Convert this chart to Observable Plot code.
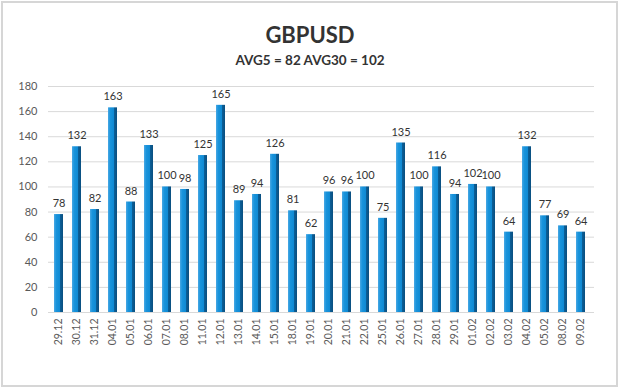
<!DOCTYPE html>
<html><head><meta charset="utf-8">
<script src="https://cdn.jsdelivr.net/npm/d3@7"></script>
<script src="https://cdn.jsdelivr.net/npm/@observablehq/plot@0.6"></script>
<style>
html,body{margin:0;padding:0;background:#fff;}
#wrap{position:relative;width:620px;height:387px;overflow:hidden;font-family:Lato,"Open Sans",sans-serif;}
#frame{position:absolute;left:1px;top:1px;width:613px;height:382px;border:2px solid #d6d6d6;}
#title{position:absolute;left:0;top:21px;width:620px;text-align:center;font-weight:bold;font-size:22px;color:#333;}
#sub{position:absolute;left:0;top:52px;width:620px;text-align:center;font-weight:bold;font-size:13.5px;color:#333;}
#chart{position:absolute;left:0;top:74px;}
</style></head>
<body>
<div id="wrap">
<div id="frame"></div>
<div id="title">GBPUSD</div>
<div id="sub">AVG5 = 82 AVG30 = 102</div>
<div id="chart"></div>
</div>
<script>
const dates = ["29.12","30.12","31.12","04.01","05.01","06.01","07.01","08.01","11.01","12.01","13.01","14.01","15.01","18.01","19.01","20.01","21.01","22.01","25.01","26.01","27.01","28.01","29.01","01.02","02.02","03.02","04.02","05.02","08.02","09.02"];
const values = [78,132,82,163,88,133,100,98,125,165,89,94,126,81,62,96,96,100,75,135,100,116,94,102,100,64,132,77,69,64];
const yTicks = [0,20,40,60,80,100,120,140,160,180];

const data = dates.map((d,i)=>({date:d, value:values[i]}));

const chart = Plot.plot({
  width: 620,
  height: 313,
  marginTop: 12,
  marginBottom: 75,
  marginLeft: 48,
  marginRight: 26,
  style: {fontFamily: "Lato, 'Open Sans', sans-serif", background: "transparent"},
  x: {domain: dates, paddingInner: 0.52, paddingOuter: 0.26, insetLeft: 1, insetRight: 4, label: null},
  y: {domain: [0,180], ticks: yTicks, label: null},
  marks: [
    Plot.gridY(yTicks, {stroke: "#d9d9d9", strokeOpacity: 1, strokeWidth: 1}),
    Plot.axisY({ticks: yTicks, tickSize: 0, tickPadding: 11, fontSize: 11, fill: "#595959", label: null}),
    Plot.axisX({tickSize: 0, tickRotate: -90, tickPadding: 6, fontSize: 10.5, fill: "#595959", label: null}),
    Plot.barY(data, {x: "date", y: "value", fill: "url(#bargrad)"}),
    Plot.text(data, {x: "date", y: "value", text: d => String(d.value), dy: -11, fontSize: 11, fill: "#333"})
  ]
});

const ns = "http://www.w3.org/2000/svg";
const defs = document.createElementNS(ns, "defs");
defs.innerHTML = '<linearGradient id="bargrad" x1="0" x2="1" y1="0" y2="0">' +
  '<stop offset="0" stop-color="#4aa8e4"/>' +
  '<stop offset="0.25" stop-color="#1994dc"/>' +
  '<stop offset="0.7" stop-color="#0e88d2"/>' +
  '<stop offset="0.72" stop-color="#0b5d95"/>' +
  '<stop offset="1" stop-color="#0a4f80"/>' +
  '</linearGradient>';
chart.insertBefore(defs, chart.firstChild);
document.getElementById("chart").appendChild(chart);
</script>
</body></html>
